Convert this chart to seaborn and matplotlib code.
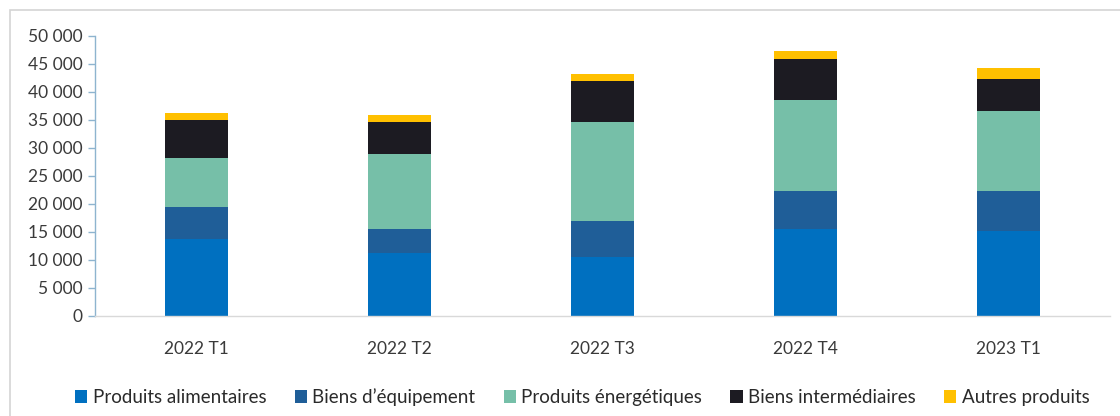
import numpy as np
import pandas as pd
import matplotlib
matplotlib.use("Agg")
import matplotlib.pyplot as plt
from matplotlib.patches import Patch, Rectangle
from matplotlib.ticker import FuncFormatter, MultipleLocator
import seaborn as sns

# Quarterly values by product group (stacked from bottom to top)
quarters = ["2022 T1", "2022 T2", "2022 T3", "2022 T4", "2023 T1"]
produits_alimentaires = [13800, 11200, 10600, 15500, 15200]
biens_equipement = [5700, 4300, 6300, 6900, 7200]
produits_energetiques = [8800, 13500, 17700, 16200, 14200]
biens_intermediaires = [6700, 5650, 7400, 7300, 5800]
autres_produits = [1200, 1200, 1200, 1400, 1900]

series_names = ["Produits alimentaires", "Biens d\u2019équipement",
                "Produits énergétiques", "Biens intermédiaires", "Autres produits"]
series_values = [produits_alimentaires, biens_equipement, produits_energetiques,
                 biens_intermediaires, autres_produits]
colors = ["#0070C0", "#1F5E98", "#76BFA8", "#1C1B22", "#FFC000"]

sns.set_theme(style="white")
plt.rcParams["font.family"] = ["Lato", "DejaVu Sans"]

fig = plt.figure(figsize=(11.2, 4.16), dpi=100)
# light frame around the chart area
fig.patches.append(Rectangle((10 / 1120, -0.1), 1.2, 1 - 10 / 416 + 0.1,
                             transform=fig.transFigure, fill=False,
                             edgecolor="#D4D4D4", linewidth=1.2))
ax = fig.add_axes([95 / 1120, 1 - 316 / 416, (1110 - 95) / 1120, (316 - 36) / 416])

df = pd.DataFrame({"quarter": quarters})
cum = np.cumsum(np.array(series_values), axis=0)
# draw cumulative totals from the top layer down so each layer shows its own segment
for i in range(len(series_names) - 1, -1, -1):
    df["value"] = cum[i]
    sns.barplot(data=df, x="quarter", y="value", color=colors[i], width=0.31,
                saturation=1, ax=ax, linewidth=0, edgecolor="none")

ax.set_ylim(0, 50000)
ax.set_xlim(-0.5, len(quarters) - 0.5)
ax.yaxis.set_major_locator(MultipleLocator(5000))
ax.yaxis.set_major_formatter(FuncFormatter(lambda v, p: f"{int(v):,}".replace(",", " ")))
ax.set_xlabel("")
ax.set_ylabel("")

for side in ["top", "right"]:
    ax.spines[side].set_visible(False)
ax.spines["left"].set_color("#8EB4CF")
ax.spines["left"].set_linewidth(1.0)
ax.spines["bottom"].set_color("#D9D9D9")
ax.spines["bottom"].set_linewidth(1.0)

ax.tick_params(axis="y", which="major", left=True, length=5, width=1,
               color="#8EB4CF", labelsize=12.5, labelcolor="#3A3A3A", pad=4)
ax.tick_params(axis="x", bottom=False, labelsize=12.5, labelcolor="#3A3A3A", pad=12)

handles = [Patch(facecolor=c, edgecolor="none") for c in colors]
fig.legend(handles, series_names, loc="center", bbox_to_anchor=(0.52, 1 - 397 / 416),
           ncol=5, frameon=False, fontsize=13.5, handlelength=0.65, handleheight=0.65,
           handletextpad=0.3, columnspacing=1.5, labelcolor="#2A2A2A")

fig.savefig("out.png", dpi=100)
